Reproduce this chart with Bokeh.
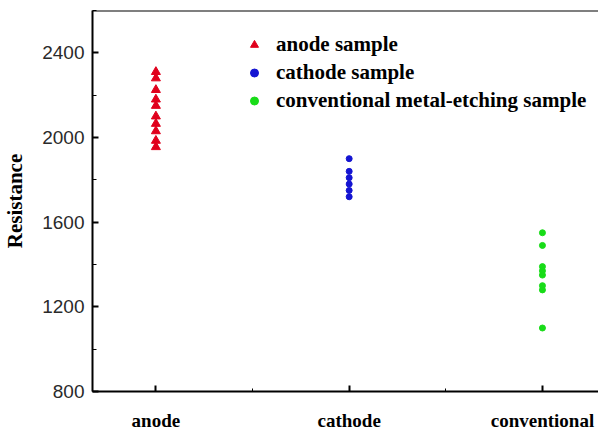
from bokeh.plotting import figure
from bokeh.models import FixedTicker, SingleIntervalTicker, Span, Range1d, Legend, LegendItem
from bokeh.embed import file_html
from bokeh.resources import INLINE

categories = ["anode", "cathode", "conventional"]
cat_pos = [1, 2, 3]
anode = [2310, 2280, 2225, 2180, 2150, 2100, 2065, 2030, 1985, 1955]
cathode = [1900, 1840, 1810, 1780, 1750, 1720]
conventional = [1550, 1490, 1390, 1370, 1350, 1300, 1280, 1100]
legend_labels = ["anode sample", "cathode sample", "conventional metal-etching sample"]
y_ticks_interval = 400

p = figure(width=598, height=433, output_backend="svg", toolbar_location=None,
           x_range=Range1d(0.672, 3.29), y_range=Range1d(800, 2600),
           min_border_left=89, min_border_top=10, min_border_right=0, min_border_bottom=42)
p.outline_line_color = None
p.grid.visible = False
p.background_fill_color = "white"
p.border_fill_color = "white"

r1 = p.scatter([cat_pos[0]] * len(anode), anode, marker="triangle", size=9,
               color="#e0001c")
r2 = p.scatter([cat_pos[1]] * len(cathode), cathode, marker="circle", size=6,
               color="#1414d2")
r3 = p.scatter([cat_pos[2]] * len(conventional), conventional, marker="circle", size=6,
               color="#18dc18")

p.add_layout(Span(location=2600, dimension="width", line_color="black", line_width=2))

# x axis
xa = p.xaxis[0]
xa.ticker = FixedTicker(ticks=cat_pos, minor_ticks=[1.5, 2.5])
xa.major_label_overrides = {c: l for c, l in zip(cat_pos, categories)}
xa.major_label_text_font = "Liberation Serif"
xa.major_label_text_font_style = "bold"
xa.major_label_text_font_size = "19px"
xa.major_label_text_color = "black"
xa.major_label_standoff = 18
xa.axis_line_width = 2
xa.major_tick_in = 6
xa.major_tick_out = 0
xa.minor_tick_in = 3
xa.minor_tick_out = 0
xa.major_tick_line_width = 2

# y axis
ya = p.yaxis[0]
ya.ticker = SingleIntervalTicker(interval=y_ticks_interval, num_minor_ticks=2)
ya.major_label_text_font = "Liberation Sans"
ya.major_label_text_font_size = "19px"
ya.major_label_text_color = "#2a2a2a"
ya.major_label_standoff = 8
ya.axis_label = "Resistance"
ya.axis_label_text_font = "Liberation Serif"
ya.axis_label_text_font_style = "bold"
ya.axis_label_text_font_size = "21px"
ya.axis_label_text_color = "black"
ya.axis_label_standoff = 12
ya.axis_line_width = 2
ya.major_tick_in = 6
ya.major_tick_out = 0
ya.minor_tick_in = 4
ya.minor_tick_out = 0
ya.major_tick_line_width = 2

legend = Legend(items=[LegendItem(label=legend_labels[0], renderers=[r1]),
                       LegendItem(label=legend_labels[1], renderers=[r2]),
                       LegendItem(label=legend_labels[2], renderers=[r3])],
                location=(152, 278))
legend.border_line_color = None
legend.background_fill_alpha = 0
legend.padding = 0
legend.margin = 0
legend.spacing = 3
legend.label_height = 25
legend.glyph_height = 25
legend.glyph_width = 20
legend.label_standoff = 12
legend.label_text_font = "Liberation Serif"
legend.label_text_font_style = "bold"
legend.label_text_font_size = "21px"
legend.label_text_color = "black"
p.add_layout(legend)

open("out.html", "w").write(file_html(p, INLINE))
